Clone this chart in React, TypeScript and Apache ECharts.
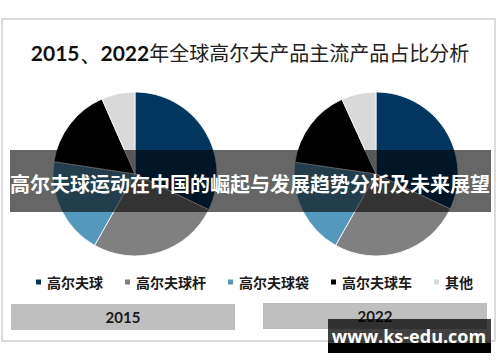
import React, { useEffect, useRef } from "react";
import * as echarts from "echarts";

const categories = ["高尔夫球", "高尔夫球杆", "高尔夫球袋", "高尔夫球车", "其他"];
const values2015 = [32.2, 26.0, 19.2, 16.0, 6.6];
const values2022 = [32.0, 26.2, 19.1, 15.9, 6.8];
const colors = ["#00365f", "#808080", "#5598be", "#000000", "#d9d9d9"];
const yearLabels = ["2015", "2022"];
const titleYears = "2015、2022";
const titleRest = "年全球高尔夫产品主流产品占比分析";
const bannerText = "高尔夫球运动在中国的崛起与发展趋势分析及未来展望";
const watermark = "www.ks-edu.com";

const CJK = '"Noto Sans CJK SC", "Noto Sans", sans-serif';

export default function App() {
  const ref = useRef<HTMLDivElement>(null);
  useEffect(() => {
    if (!ref.current) return;
    const chart = echarts.init(ref.current, null, { renderer: "svg" });
    const mk = (vals: number[]) => categories.map((c, i) => ({ name: c, value: vals[i] }));
    const pieBase = {
      type: "pie",
      radius: 82,
      startAngle: 90,
      clockwise: true,
      label: { show: false },
      labelLine: { show: false },
      itemStyle: { borderColor: "#ffffff", borderWidth: 0.8 },
      emphasis: { disabled: true },
    };
    chart.setOption({
      animation: false,
      backgroundColor: "#ffffff",
      color: colors,
      title: {
        text: "{a|" + titleYears + "}{b|" + titleRest + "}",
        left: "center",
        top: 37,
        textStyle: {
          rich: {
            a: { fontFamily: "Lato, sans-serif", fontWeight: "bold", fontSize: 21, color: "#111" },
            b: { fontFamily: CJK, fontWeight: "normal", fontSize: 20, color: "#222" },
          },
        },
      },
      legend: {
        data: categories,
        top: 270,
        left: 29,
        itemWidth: 7,
        itemHeight: 7,
        itemGap: 20,
        icon: "rect",
        textStyle: { fontFamily: CJK, fontSize: 14, color: "#1a1a1a", fontWeight: "bold" },
        selectedMode: false,
      },
      series: [
        { ...pieBase, name: yearLabels[0], center: [135, 174], data: mk(values2015) },
        { ...pieBase, name: yearLabels[1], center: [376, 174], data: mk(values2022) },
      ],
      graphic: [
        {
          type: "rect",
          z: -10,
          shape: { x: 2, y: 19, width: 493, height: 322 },
          style: { fill: "none", stroke: "#cfcfcf", lineWidth: 1.5 },
        },
        {
          type: "rect",
          z: 50,
          shape: { x: 11, y: 304, width: 224, height: 26 },
          style: { fill: "#bfbfbf" },
        },
        {
          type: "rect",
          z: 50,
          shape: { x: 263, y: 303, width: 224, height: 26 },
          style: { fill: "#bfbfbf" },
        },
        {
          type: "text",
          z: 51,
          x: 123,
          y: 317,
          style: {
            text: yearLabels[0],
            align: "center",
            verticalAlign: "middle",
            fontFamily: "Lato, sans-serif",
            fontWeight: "bold",
            fontSize: 15,
            fill: "#1a1a1a",
          },
        },
        {
          type: "text",
          z: 51,
          x: 375,
          y: 316,
          style: {
            text: yearLabels[1],
            align: "center",
            verticalAlign: "middle",
            fontFamily: "Lato, sans-serif",
            fontWeight: "bold",
            fontSize: 15,
            fill: "#1a1a1a",
          },
        },
        {
          type: "rect",
          z: 100,
          shape: { x: 10, y: 150, width: 481, height: 62 },
          style: { fill: "rgba(0,0,0,0.6)" },
        },
        {
          type: "text",
          z: 101,
          x: 250,
          y: 183,
          style: {
            text: bannerText,
            align: "center",
            verticalAlign: "middle",
            fontFamily: CJK,
            fontWeight: "bold",
            fontSize: 20,
            fill: "#ffffff",
          },
        },
        {
          type: "rect",
          z: 100,
          shape: { x: 328, y: 319, width: 163, height: 24 },
          style: { fill: "rgba(0,0,0,0.75)" },
        },
        {
          type: "rect",
          z: 100,
          shape: { x: 328, y: 343, width: 163, height: 10 },
          style: { fill: "#000000" },
        },
        {
          type: "text",
          z: 101,
          x: 409,
          y: 336,
          style: {
            text: watermark,
            align: "center",
            verticalAlign: "middle",
            fontFamily: '"Open Sans", sans-serif',
            fontWeight: "bold",
            fontSize: 18,
            fill: "#ffffff",
          },
        },
      ],
    });
    return () => chart.dispose();
  }, []);
  return (
    <div
      ref={ref}
      style={{ position: "fixed", left: 0, top: 0, width: 500, height: 362 }}
    />
  );
}
